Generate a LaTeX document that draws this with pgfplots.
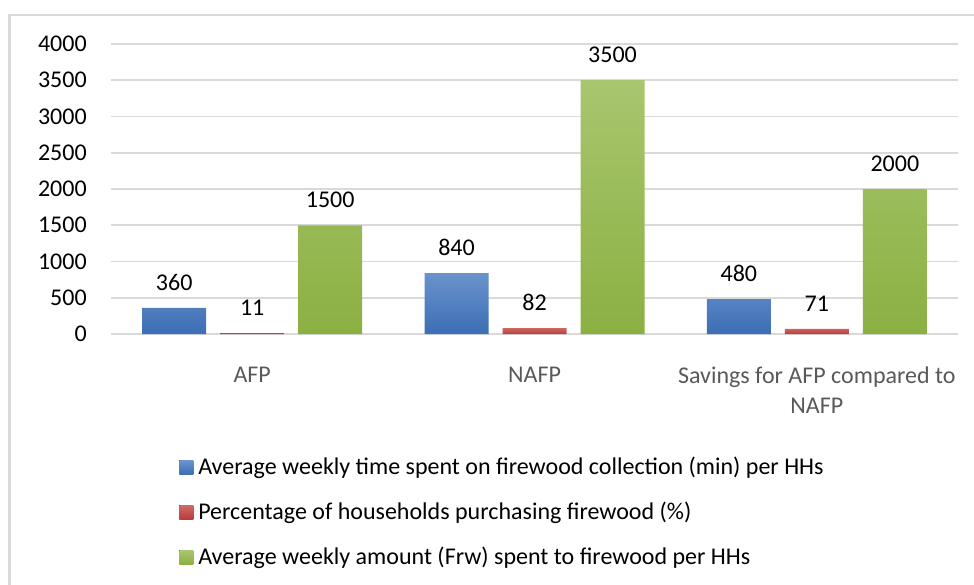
\documentclass[border=0pt]{standalone}
\usepackage{pgfplots}
\pgfplotsset{compat=1.18}
\usepackage{fontspec}
\setmainfont{Carlito}
\definecolor{gridgray}{HTML}{D9D9D9}
\definecolor{labgray}{HTML}{595959}
\definecolor{bluetop}{RGB}{106,147,204}
\definecolor{bluebot}{RGB}{60,110,180}
\definecolor{redtop}{RGB}{207,104,101}
\definecolor{redbot}{RGB}{184,60,58}
\definecolor{greentop}{RGB}{168,198,110}
\definecolor{greenbot}{RGB}{139,176,66}
\newcommand{\cfont}{\fontsize{18}{22.5}\selectfont}
\begin{document}
\begin{tikzpicture}
\useasboundingbox (-83.25pt,-188.25pt) rectangle (647.25pt,250.5pt);
\draw[gridgray, line width=1.6pt] (-76.1pt,-200pt) -- (-76.1pt,239.25pt) -- (660pt,239.25pt);
\begin{axis}[
  scale only axis,
  width=635.25pt, height=217.5pt,
  ybar=10.5pt, bar width=48pt,
  xmin=-0.5, xmax=2.5, ymin=0, ymax=4000,
  xtick={0,1,2},
  xticklabels={AFP, NAFP, {Savings for AFP compared to\\NAFP}},
  ytick={0,500,...,4000},
  scaled y ticks=false,
  /pgf/number format/1000 sep={},
  /pgf/number format/assume math mode=true,
  axis line style={draw=none},
  major tick length=0pt,
  ymajorgrids,
  grid style={gridgray, line width=1.2pt},
  xticklabel style={font=\cfont, text=labgray, align=center, anchor=north, inner sep=0pt, yshift=-24.5pt},
  yticklabel style={font=\cfont, text=black, anchor=east, inner sep=0pt, xshift=-18pt},
  nodes near coords,
  every node near coord/.append style={font=\cfont, text=black, anchor=south, inner sep=0pt, yshift=12.75pt},
  legend style={at={(0.0803,-0.4294)}, anchor=north west, draw=none, fill=none, inner sep=0pt,
    font=\cfont, row sep=17.75pt, column sep=3.75pt,
    nodes={inner sep=0pt, text height=12pt, text depth=4pt}},
  legend cell align=left,
  legend image code/.code={\fill[#1] (0pt,-3.75pt) rectangle (10.5pt,6.75pt);},
]
\addplot[draw=none, top color=bluetop, bottom color=bluebot] coordinates {(0,360) (1,840) (2,480)};
\addplot[draw=none, top color=redtop, bottom color=redbot] coordinates {(0,11) (1,82) (2,71)};
\addplot[draw=none, top color=greentop, bottom color=greenbot] coordinates {(0,1500) (1,3500) (2,2000)};
\legend{Average weekly time spent on firewood collection (min) per HHs,
Percentage of households purchasing firewood (\%),
Average weekly amount (Frw) spent to firewood per HHs}
\end{axis}
\end{tikzpicture}
\end{document}
